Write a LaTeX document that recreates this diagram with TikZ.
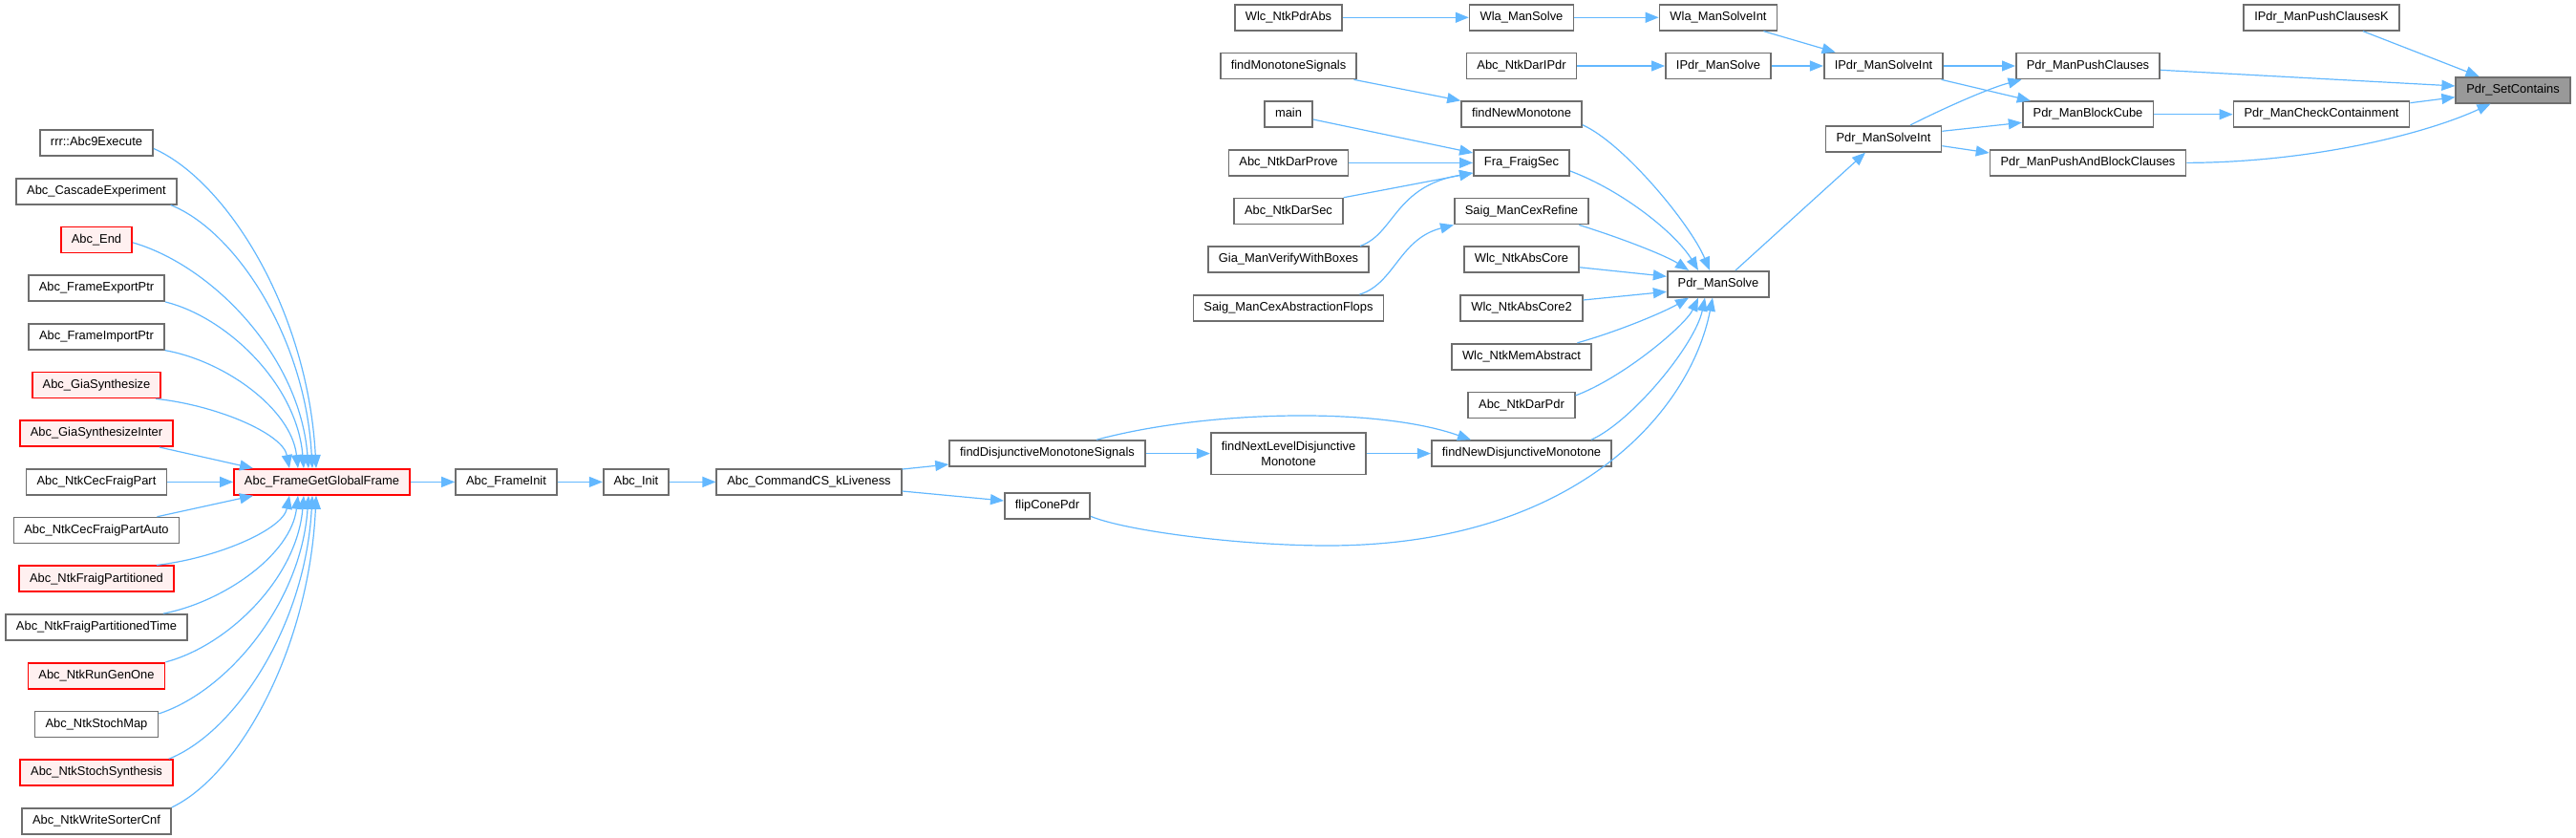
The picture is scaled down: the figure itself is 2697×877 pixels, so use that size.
\documentclass[tikz,border=0pt]{standalone}
\usepackage{fontspec}
\setmainfont{Liberation Sans}
\usetikzlibrary{arrows.meta,calc}
\definecolor{edgeblue}{HTML}{63B8FF}
\definecolor{boxgray}{HTML}{6E6E6E}
\definecolor{redfill}{HTML}{FFF0F0}
\definecolor{curgray}{HTML}{999999}
\tikzset{
  ndbase/.style={draw=boxgray, line width=1.7pt, fill=white, inner xsep=11pt, inner ysep=0pt, font=\fontsize{12.9}{16}\selectfont},
  nd/.style={ndbase, minimum height=27pt, text height=9.6pt, text depth=3.2pt},
  rnd/.style={nd, draw=red, fill=redfill},
  cnd/.style={nd, fill=curgray},
  nd2/.style={ndbase, minimum height=43.6pt, align=center},
  conn/.style={draw=edgeblue, line width=1.2pt, -{Triangle[length=14pt,width=11pt]}},
}
\begin{document}
\begin{tikzpicture}[x=1pt,y=-1pt]
\useasboundingbox (0,0) rectangle (2697,877);
% left column
\node[nd]  (abc9)  at (101,149.5) {rrr::Abc9Execute};
\node[nd]  (casc)  at (101,200.2) {Abc\_CascadeExperiment};
\node[rnd] (aend)  at (101,250.9) {Abc\_End};
\node[nd]  (fexp)  at (101,301.6) {Abc\_FrameExportPtr};
\node[nd]  (fimp)  at (101,352.3) {Abc\_FrameImportPtr};
\node[rnd] (gsyn)  at (101,403.0) {Abc\_GiaSynthesize};
\node[rnd] (gsyni) at (101,453.7) {Abc\_GiaSynthesizeInter};
\node[nd]  (cfp)   at (101,504.4) {Abc\_NtkCecFraigPart};
\node[nd]  (cfpa)  at (101,555.1) {Abc\_NtkCecFraigPartAuto};
\node[rnd] (nfp)   at (101,605.8) {Abc\_NtkFraigPartitioned};
\node[nd]  (nfpt)  at (101,656.5) {Abc\_NtkFraigPartitionedTime};
\node[rnd] (rgo)   at (101,707.2) {Abc\_NtkRunGenOne};
\node[nd]  (smap)  at (101,757.9) {Abc\_NtkStochMap};
\node[rnd] (ssyn)  at (101,808.6) {Abc\_NtkStochSynthesis};
\node[nd]  (wsc)   at (101,859.3) {Abc\_NtkWriteSorterCnf};
% chain
\node[rnd] (fggf)  at (337,504.4) {Abc\_FrameGetGlobalFrame};
\node[nd]  (finit) at (530,504.4) {Abc\_FrameInit};
\node[nd]  (ainit) at (666,504.4) {Abc\_Init};
\node[nd]  (kliv)  at (847,504.4) {Abc\_CommandCS\_kLiveness};
\node[nd]  (fdms)  at (1096.5,474.6) {findDisjunctiveMonotoneSignals};
\node[nd]  (flip)  at (1096.5,529.4) {flipConePdr};
\node[nd2] (fnld)  at (1349,474.6) {findNextLevelDisjunctive\\Monotone};
% column 1349
\node[nd] (pdrabs) at (1349,18.3)  {Wlc\_NtkPdrAbs};
\node[nd] (fms)    at (1349,69)    {findMonotoneSignals};
\node[nd] (main)   at (1349,119.7) {main};
\node[nd] (dprove) at (1349,170.4) {Abc\_NtkDarProve};
\node[nd] (dsec)   at (1349,221.1) {Abc\_NtkDarSec};
\node[nd] (gvwb)   at (1349,271.8) {Gia\_ManVerifyWithBoxes};
\node[nd] (scaf)   at (1349,322.5) {Saig\_ManCexAbstractionFlops};
% column 1593
\node[nd] (wlams)  at (1593,18.3)  {Wla\_ManSolve};
\node[nd] (dipdr)  at (1593,69)    {Abc\_NtkDarIPdr};
\node[nd] (fnm)    at (1593,119.7) {findNewMonotone};
\node[nd] (ffs)    at (1593,170.4) {Fra\_FraigSec};
\node[nd] (scr)    at (1593,221.1) {Saig\_ManCexRefine};
\node[nd] (absc)   at (1593,271.8) {Wlc\_NtkAbsCore};
\node[nd] (absc2)  at (1593,322.5) {Wlc\_NtkAbsCore2};
\node[nd] (memabs) at (1593,373.2) {Wlc\_NtkMemAbstract};
\node[nd] (dpdr)   at (1593,423.9) {Abc\_NtkDarPdr};
\node[nd] (fndm)   at (1593,474.6) {findNewDisjunctiveMonotone};
% column 1799
\node[nd] (wlamsi) at (1799,18.3)  {Wla\_ManSolveInt};
\node[nd] (ipms)   at (1799,69)    {IPdr\_ManSolve};
\node[nd] (pms)    at (1799,297.3) {Pdr\_ManSolve};
% column 1972
\node[nd] (ipmsi)  at (1972,69)    {IPdr\_ManSolveInt};
\node[nd] (pmsi)   at (1972,145.3) {Pdr\_ManSolveInt};
% column 2186
\node[nd] (ppc)    at (2186,69)    {Pdr\_ManPushClauses};
\node[nd] (pbc)    at (2186,119.7) {Pdr\_ManBlockCube};
\node[nd] (ppabc)  at (2186,170.4) {Pdr\_ManPushAndBlockClauses};
% column 2430
\node[nd] (ippck)  at (2430.5,18.3)  {IPdr\_ManPushClausesK};
\node[nd] (pcc)    at (2430.5,119.7) {Pdr\_ManCheckContainment};
\node[cnd] (psc)   at (2631,94.3)    {Pdr\_SetContains};

% fan into Abc_FrameGetGlobalFrame
\draw[conn] ($(abc9.east)+(0,6)$) .. controls (237,189) and (322,324) .. ($(fggf.north)+(-6,0)$);
\draw[conn] ($(casc.south east)+(-7,0)$) .. controls (245.6,241) and (319.6,352) .. ($(fggf.north)+(-10,0)$);
\draw[conn] ($(aend.east)+(0,3)$) .. controls (221.8,277.7) and (313.8,372.4) .. ($(fggf.north)+(-14,0)$);
\draw[conn] (fexp.south east) .. controls (238,332) and (310.8,402.5) .. ($(fggf.north)+(-19,0)$);
\draw[conn] (fimp.south east) .. controls (235,377.6) and (305,427.9) .. ($(fggf.north)+(-25,0)$);
\draw[conn] ($(gsyn.south east)+(-6,0)$) .. controls (226.6,424) and (296,453.7) .. ($(fggf.north)+(-34,0)$);
\draw[conn] ($(gsyni.south east)+(-15,0)$) -- ($(fggf.north)+(-72,0)$);
\draw[conn] (cfp.east) -- (fggf.west);
\draw[conn] ($(cfpa.north east)+(-24,0)$) -- ($(fggf.south)+(-72,0)$);
\draw[conn] ($(nfp.north east)+(-19,0)$) .. controls (226.6,584.3) and (296,554.5) .. ($(fggf.south)+(-34,0)$);
\draw[conn] ($(nfpt.north east)+(-26,0)$) .. controls (235,629.8) and (305,579.8) .. ($(fggf.south)+(-25,0)$);
\draw[conn] (rgo.north east) .. controls (238.6,675.7) and (310.8,605.3) .. ($(fggf.south)+(-19,0)$);
\draw[conn] ($(smap.east)+(0,-11)$) .. controls (237.4,723.8) and (315.2,632) .. ($(fggf.south)+(-14,0)$);
\draw[conn] ($(ssyn.north east)+(-5,0)$) .. controls (245.4,767) and (319.6,656) .. ($(fggf.south)+(-10,0)$);
\draw[conn] (wsc.north east) .. controls (248.5,812.5) and (323.5,681.3) .. ($(fggf.south)+(-6,0)$);

% chain
\draw[conn] (fggf.east) -- (finit.west);
\draw[conn] (finit.east) -- (ainit.west);
\draw[conn] (ainit.east) -- (kliv.west);
\draw[conn] ($(kliv.north east)+(0,1)$) -- ($(fdms.west)+(0,11.4)$);
\draw[conn] ($(kliv.east)+(0,9.6)$) -- ($(flip.west)+(0,-5.4)$);
\draw[conn] (fdms.east) -- (fnld.west);
\draw[conn] (fnld.east) -- (fndm.west);
\draw[conn] ($(fdms.north)+(51.5,0)$) .. controls (1260,430) and (1440,425) .. ($(fndm.north)+(-53,0)$);
\draw[conn] ($(flip.east)+(0,11)$) .. controls (1180,556) and (1300,571) .. (1390,571) .. controls (1650,571) and (1770,430) .. ($(pms.south)+(-6,0)$);

% into Pdr_ManSolve
\draw[conn] ($(fndm.north east)+(-22,0)$) .. controls (1710,440) and (1775,360) .. ($(pms.south)+(-14,0)$);
\draw[conn] ($(dpdr.east)+(0,-10)$) .. controls (1700,395) and (1765,340) .. ($(pms.south)+(-21,0)$);
\draw[conn] ($(memabs.north east)+(-15.5,0)$) .. controls (1700,345) and (1745,325) .. ($(pms.south)+(-31,0)$);
\draw[conn] ($(absc2.east)+(0,-8.5)$) -- ($(pms.west)+(0,8)$);
\draw[conn] ($(absc.east)+(0,8)$) -- ($(pms.west)+(0,-8)$);
\draw[conn] ($(scr.south east)+(-10.7,0)$) .. controls (1700,250) and (1745,268) .. ($(pms.north)+(-31,0)$);
\draw[conn] ($(ffs.east)+(0,8.6)$) .. controls (1700,200) and (1755,245) .. ($(pms.north)+(-21,0)$);
\draw[conn] ($(fnm.east)+(0,11)$) .. controls (1700,150) and (1770,235) .. ($(pms.north)+(-9,0)$);
\draw[conn] ($(pms.north)+(18,0)$) -- ($(pmsi.south)+(-19,0)$);

% column 1349 -> 1593
\draw[conn] (pdrabs.east) -- (wlams.west);
\draw[conn] (wlams.east) -- (wlamsi.west);
\draw[conn] ($(fms.south east)+(-3.6,0)$) -- (fnm.north west);
\draw[conn] ($(main.east)+(0,5.3)$) -- ($(ffs.west)+(0,-10.4)$);
\draw[conn] (dprove.east) -- (ffs.west);
\draw[conn] (dsec.north east) -- ($(ffs.west)+(0,10.6)$);
\draw[conn] ($(gvwb.north east)+(-10,0)$) .. controls (1460,245) and (1460,195) .. ($(ffs.west)+(0,10.6)$);
\draw[conn] ($(scaf.north east)+(-26,0)$) .. controls (1460,297) and (1465,250) .. (scr.south west);

% IPdr chain
\draw[conn] (dipdr.east) -- (ipms.west);
\draw[conn] (ipms.east) -- (ipmsi.west);
\draw[conn] ($(wlamsi.south east)+(-15,0)$) -- ($(ipmsi.north west)+(12.7,0)$);
\draw[conn] (ipmsi.east) -- (ppc.west);
\draw[conn] ($(ipmsi.south east)+(-2.6,0)$) -- ($(pbc.north west)+(9,0)$);
\draw[conn] ($(pmsi.north)+(28,0)$) .. controls (2030,115.7) and (2080,93) .. ($(ppc.south west)+(6.5,0)$);
\draw[conn] ($(pmsi.east)+(0,-8)$) -- ($(pbc.west)+(0,8.6)$);
\draw[conn] ($(pmsi.east)+(0,7.4)$) -- ($(ppabc.west)+(0,-10.4)$);
\draw[conn] (pbc.east) -- (pcc.west);

% into Pdr_SetContains
\draw[conn] ($(ippck.south)+(43.4,0)$) -- ($(psc.north)+(-35.5,0)$);
\draw[conn] ($(ppc.east)+(0,4.3)$) -- ($(psc.west)+(0,-4.3)$);
\draw[conn] ($(pcc.east)+(0,-12)$) -- ($(psc.west)+(0,7.4)$);
\draw[conn] (ppabc.east) .. controls (2420,170) and (2540,140) .. ($(psc.south)+(-23.5,0)$);
\end{tikzpicture}
\end{document}
